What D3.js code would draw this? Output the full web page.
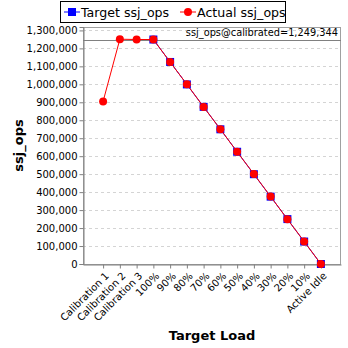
<!DOCTYPE html>
<html>
<head>
<meta charset="utf-8">
<script src="https://cdn.jsdelivr.net/npm/d3@7"></script>
<style>
  html, body { margin: 0; padding: 0; background: #fff; }
  svg { display: block; font-family: "DejaVu Sans", sans-serif; }
</style>
</head>
<body>
<svg id="chart" width="348" height="348"></svg>
<script>
// Load levels along the x axis
const categories = ["Calibration 1", "Calibration 2", "Calibration 3", "100%", "90%", "80%", "70%", "60%", "50%", "40%", "30%", "20%", "10%", "Active Idle"];
// Target throughput per load level (null where no target exists)
const targetOps = [null, null, null, 1249344, 1124410, 999475, 874541, 749606, 624672, 499738, 374803, 249869, 124934, 0];
// Measured throughput per load level
const actualOps = [905000, 1251000, 1249500, 1249344, 1123800, 1000100, 874000, 749900, 624200, 500300, 375300, 249600, 125200, 0];
const calibrated = 1249344;
const yTicks = [0, 100000, 200000, 300000, 400000, 500000, 600000, 700000, 800000, 900000, 1000000, 1100000, 1200000, 1300000];

const svg = d3.select("#chart");
const plot = { left: 83, right: 341, top: 27, bottom: 264 };

const x = d3.scalePoint().domain(categories)
  .range([plot.left, plot.right]).padding(1.2);
const y = d3.scaleLinear().domain([0, 1319000]).range([plot.bottom, plot.top]);

// Plot background and dashed grid
svg.append("rect").attr("x", plot.left).attr("y", plot.top)
  .attr("width", plot.right - plot.left).attr("height", plot.bottom - plot.top)
  .attr("fill", "#fff");
svg.append("g").selectAll("line").data(yTicks.filter(d => d > 0)).join("line")
  .attr("x1", plot.left).attr("x2", plot.right)
  .attr("y1", d => Math.round(y(d)) + 0.5).attr("y2", d => Math.round(y(d)) + 0.5)
  .attr("stroke", "#d4d4d4").attr("stroke-dasharray", "3,3").attr("stroke-width", 1);

// Frame
svg.append("rect").attr("x", plot.left + 0.5).attr("y", plot.top + 0.5)
  .attr("width", plot.right - plot.left - 1).attr("height", plot.bottom - plot.top)
  .attr("fill", "none").attr("stroke", "#a0a0a0");

// Calibration reference line
svg.append("line").attr("x1", plot.left).attr("x2", plot.right)
  .attr("y1", Math.round(y(calibrated)) + 0.5).attr("y2", Math.round(y(calibrated)) + 0.5)
  .attr("stroke", "#808080").attr("stroke-width", 1.2);
svg.append("text").attr("x", plot.right - 3).attr("y", y(calibrated) - 4)
  .attr("text-anchor", "end").attr("font-size", 9.8).attr("fill", "#000")
  .text("ssj_ops@calibrated=" + d3.format(",")(calibrated));

// Axes
const yAxis = d3.axisLeft(y).tickValues(yTicks).tickFormat(d3.format(",")).tickSize(4).tickPadding(2);
const gy = svg.append("g").attr("transform", `translate(${plot.left + 0.5},0)`).call(yAxis);
gy.select(".domain").attr("stroke", "#808080");
gy.selectAll(".tick line").attr("stroke", "#808080");
gy.selectAll(".tick text").attr("font-size", 10).attr("fill", "#000").attr("font-family", "DejaVu Sans");

const xAxis = d3.axisBottom(x).tickSize(4).tickSizeOuter(0);
const gx = svg.append("g").attr("transform", `translate(0,${plot.bottom + 0.5})`).call(xAxis);
gx.select(".domain").attr("stroke", "#808080");
gx.selectAll(".tick line").attr("stroke", "#808080");
gx.selectAll(".tick text")
  .attr("font-size", 10).attr("fill", "#000").attr("font-family", "DejaVu Sans")
  .attr("text-anchor", "end").attr("dy", null).attr("y", 0).attr("x", 0)
  .attr("transform", "translate(6,12) rotate(-45)");

// Axis titles
svg.append("text").attr("x", (plot.left + plot.right) / 2).attr("y", 340)
  .attr("text-anchor", "middle").attr("font-size", 13).attr("font-weight", "bold").text("Target Load");
svg.append("text").attr("transform", `translate(23,${(plot.top + plot.bottom) / 2}) rotate(-90)`)
  .attr("text-anchor", "middle").attr("font-size", 13).attr("font-weight", "bold").text("ssj_ops");

// Target series
const tPts = categories.map((c, i) => ({ c, v: targetOps[i] })).filter(d => d.v !== null);
const aPts = categories.map((c, i) => ({ c, v: actualOps[i] }));
const line = d3.line().x(d => x(d.c)).y(d => y(d.v));

svg.append("path").datum(tPts).attr("d", line).attr("fill", "none").attr("stroke", "#0000ff").attr("stroke-width", 1);
svg.append("g").selectAll("rect").data(tPts).join("rect")
  .attr("x", d => x(d.c) - 4).attr("y", d => y(d.v) - 4).attr("width", 8).attr("height", 8).attr("fill", "#0000ff");

// Actual series
svg.append("path").datum(aPts).attr("d", line).attr("fill", "none").attr("stroke", "#ff0000").attr("stroke-width", 1);
svg.append("g").selectAll("circle").data(aPts).join("circle")
  .attr("cx", d => x(d.c)).attr("cy", d => y(d.v)).attr("r", 4).attr("fill", "#ff0000");

// Legend
const lg = svg.append("g");
lg.append("rect").attr("x", 60.5).attr("y", 1.5).attr("width", 225).attr("height", 21)
  .attr("fill", "#fff").attr("stroke", "#000");
lg.append("line").attr("x1", 64).attr("x2", 80).attr("y1", 12).attr("y2", 12).attr("stroke", "#0000ff");
lg.append("rect").attr("x", 68).attr("y", 8).attr("width", 8).attr("height", 8).attr("fill", "#0000ff");
lg.append("text").attr("x", 81).attr("y", 17).attr("font-size", 12.6).text("Target ssj_ops");
lg.append("line").attr("x1", 180).attr("x2", 196).attr("y1", 12).attr("y2", 12).attr("stroke", "#ff0000");
lg.append("circle").attr("cx", 188).attr("cy", 12).attr("r", 4).attr("fill", "#ff0000");
lg.append("text").attr("x", 197).attr("y", 17).attr("font-size", 12.6).text("Actual ssj_ops");
</script>
</body>
</html>
